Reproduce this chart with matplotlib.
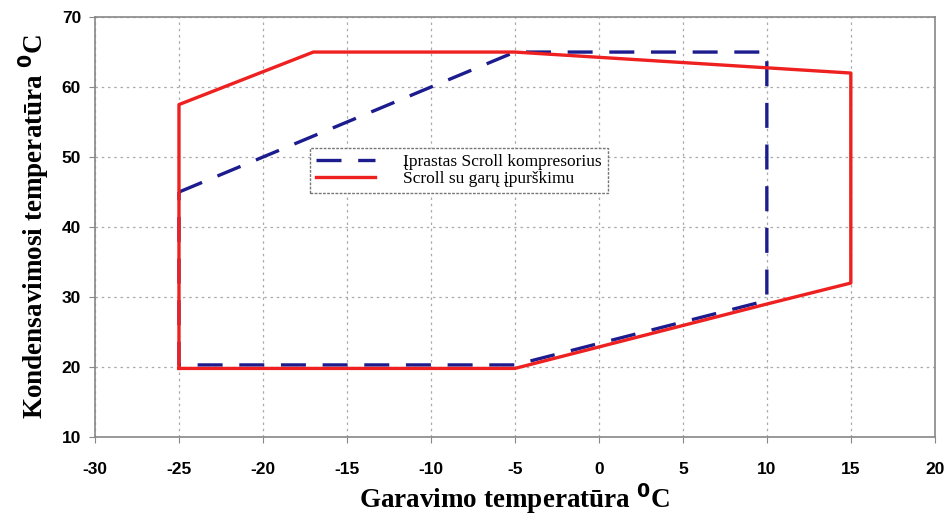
import matplotlib.pyplot as plt

plt.rcParams['axes.unicode_minus'] = False

# data
red_x = [-25, -25, -17, -5, 15, 15, 10, -5, -25]
red_y = [19.8, 57.5, 65, 65, 62, 32, 29, 19.8, 19.8]
blue_x = [-25, -5, 10, 10, -5, -25, -25]
blue_y = [45, 65, 65, 29.5, 20.3, 20.3, 45]
labels = ["Įprastas Scroll kompresorius", "Scroll su garų įpurškimu"]

fig = plt.figure(figsize=(9.5, 5.17), dpi=100)
ax = fig.add_axes([0.1, 0.1547, 0.884, 0.8123])

ax.plot(blue_x, blue_y, color="#1c1c8e", lw=2.4, dashes=(7.5, 5), label=labels[0], zorder=2)
ax.plot(red_x, red_y, color="#ee2020", lw=2.4, label=labels[1], zorder=3)

ax.set_xlim(-30, 20)
ax.set_ylim(10, 70)
ax.set_xticks(range(-30, 21, 5))
ax.set_yticks(range(10, 71, 10))
ax.grid(True, color="#aaaaaa", linestyle=(0, (2, 3)), lw=0.9)
for s in ax.spines.values():
    s.set_color("#888888")
    s.set_linewidth(1.2)
ax.tick_params(direction="out", length=4, color="#888888", labelsize=12.5)
for t in ax.get_xticklabels() + ax.get_yticklabels():
    t.set_fontweight("bold")
    t.set_family("Liberation Sans")
ax.xaxis.set_tick_params(pad=14)
ax.yaxis.set_tick_params(pad=6)

ax.set_xlabel(r"Garavimo temperatūra $^{\mathbf{0}}$C", family="Liberation Serif",
              fontweight="bold", fontsize=19.5, labelpad=3)
ax.set_ylabel(r"Kondensavimosi temperatūra $^{\mathbf{0}}$C", family="Liberation Serif",
              fontweight="bold", fontsize=19.5, labelpad=8)

leg = ax.legend(loc="upper left", bbox_to_anchor=(0.256, 0.688), borderaxespad=0,
                fancybox=False, framealpha=1, edgecolor="#777777", borderpad=0.35,
                labelspacing=0.05, handlelength=3.4, handletextpad=1.6,
                prop={"family": "Liberation Serif", "size": 12.5})
leg.get_frame().set_linestyle((0, (2, 1)))

fig.savefig("out.png")
